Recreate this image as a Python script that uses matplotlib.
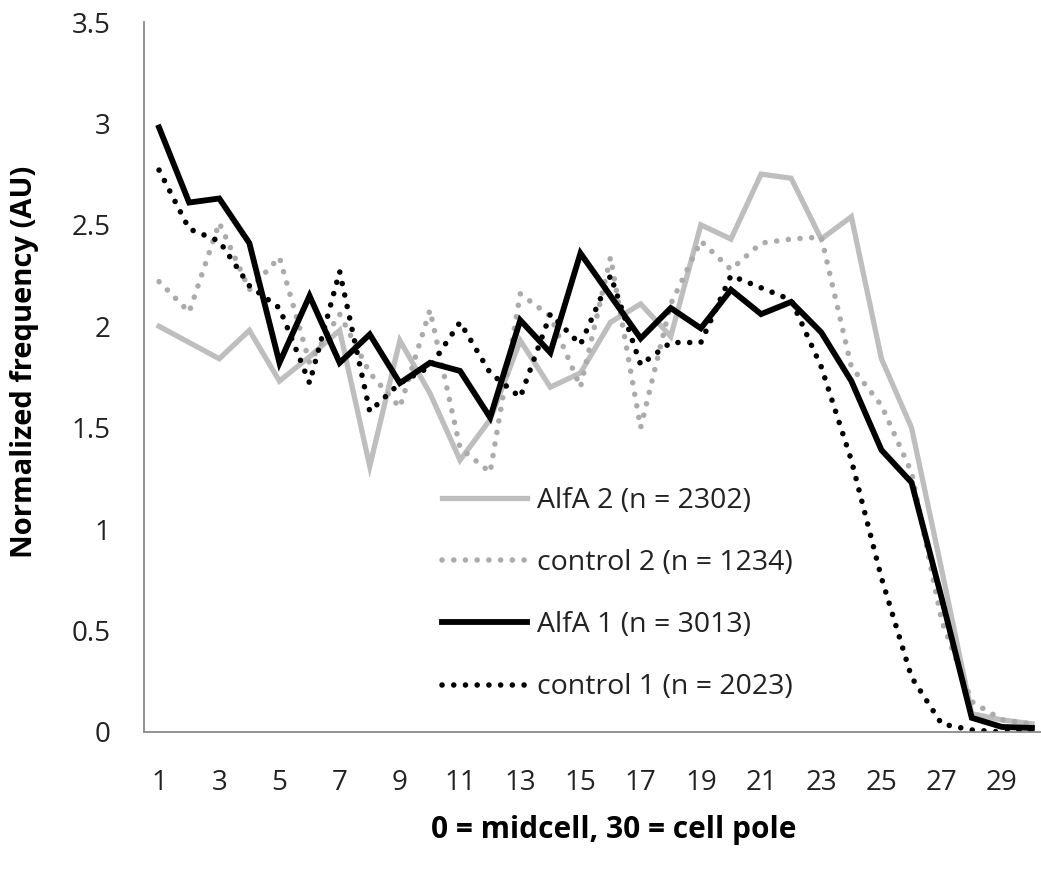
import numpy as np
import matplotlib.pyplot as plt

# Position along the cell: 1 = next to midcell, 30 = at the pole
positions = np.arange(1, 31)

alfa2 = [2.00, 1.92, 1.84, 1.98, 1.73, 1.85, 1.98, 1.31, 1.93, 1.67,
         1.34, 1.54, 1.93, 1.70, 1.77, 2.02, 2.11, 1.95, 2.50, 2.43,
         2.75, 2.73, 2.43, 2.54, 1.84, 1.50, 0.80, 0.09, 0.06, 0.04]
control2 = [2.22, 2.07, 2.51, 2.18, 2.34, 1.82, 2.06, 1.77, 1.60, 2.08,
            1.40, 1.28, 2.16, 2.05, 1.70, 2.34, 1.50, 2.11, 2.42, 2.28,
            2.41, 2.43, 2.44, 1.80, 1.61, 1.28, 0.55, 0.15, 0.06, 0.04]
alfa1 = [2.98, 2.61, 2.63, 2.41, 1.82, 2.15, 1.82, 1.96, 1.72, 1.82,
         1.78, 1.55, 2.03, 1.87, 2.36, 2.15, 1.94, 2.09, 1.99, 2.18,
         2.06, 2.12, 1.97, 1.73, 1.39, 1.23, 0.66, 0.07, 0.025, 0.02]
control1 = [2.77, 2.48, 2.42, 2.20, 2.09, 1.72, 2.27, 1.58, 1.72, 1.80,
            2.02, 1.77, 1.65, 2.06, 1.91, 2.25, 1.81, 1.92, 1.92, 2.25,
            2.19, 2.13, 1.80, 1.34, 0.76, 0.27, 0.04, 0.01, 0.00, 0.01]

labels = ["AlfA 2 (n = 2302)", "control 2 (n = 1234)",
          "AlfA 1 (n = 3013)", "control 1 (n = 2023)"]

plt.rcParams["font.family"] = ["Open Sans", "DejaVu Sans"]

W, H = 1041, 872
fig = plt.figure(figsize=(W / 100, H / 100), dpi=100)
ax = fig.add_axes([144 / W, 1 - 732 / H, (W - 144) / W, 710 / H])

dots = (0, (0.01, 2.1))
ax.plot(positions, alfa2, color="#BEBEBE", lw=3.8, solid_joinstyle="miter", label=labels[0])
ax.plot(positions, control2, color="#ABABAB", lw=4.0, ls=dots,
        dash_capstyle="round", label=labels[1])
ax.plot(positions, alfa1, color="black", lw=4.2, solid_joinstyle="miter", label=labels[2])
ax.plot(positions, control1, color="black", lw=4.0, ls=dots,
        dash_capstyle="round", label=labels[3])

ax.set_xlim(0.5, 0.5 + (W - 144) / 30.1)
ax.set_ylim(0, 3.5)
ax.set_xticks(np.arange(1, 30, 2))
ax.set_yticks(np.arange(0, 3.51, 0.5))
ax.set_yticklabels(["0", "0.5", "1", "1.5", "2", "2.5", "3", "3.5"])
ax.tick_params(length=0, labelsize=20, colors="#222222")
ax.tick_params(axis="y", pad=24)
ax.tick_params(axis="x", pad=27)

for side in ("top", "right"):
    ax.spines[side].set_visible(False)
for side in ("left", "bottom"):
    ax.spines[side].set_color("#8A8A8A")
    ax.spines[side].set_linewidth(1.3)

fig.text(25 / W, 1 - 362 / H, "Normalized frequency (AU)", rotation=90,
         ha="center", va="center", fontsize=21, fontweight="bold")
fig.text(614 / W, 1 - 830 / H, "0 = midcell, 30 = cell pole",
         ha="center", va="center", fontsize=21.5, fontweight="bold")

leg = ax.legend(loc="upper left", bbox_to_anchor=(442 / W, 1 - 487 / H),
                bbox_transform=fig.transFigure, frameon=False, fontsize=20.5,
                handlelength=3.0, handletextpad=0.35, labelspacing=1.2,
                borderpad=0, borderaxespad=0)
for t in leg.get_texts():
    t.set_color("#222222")

fig.savefig("out.png", dpi=100)
